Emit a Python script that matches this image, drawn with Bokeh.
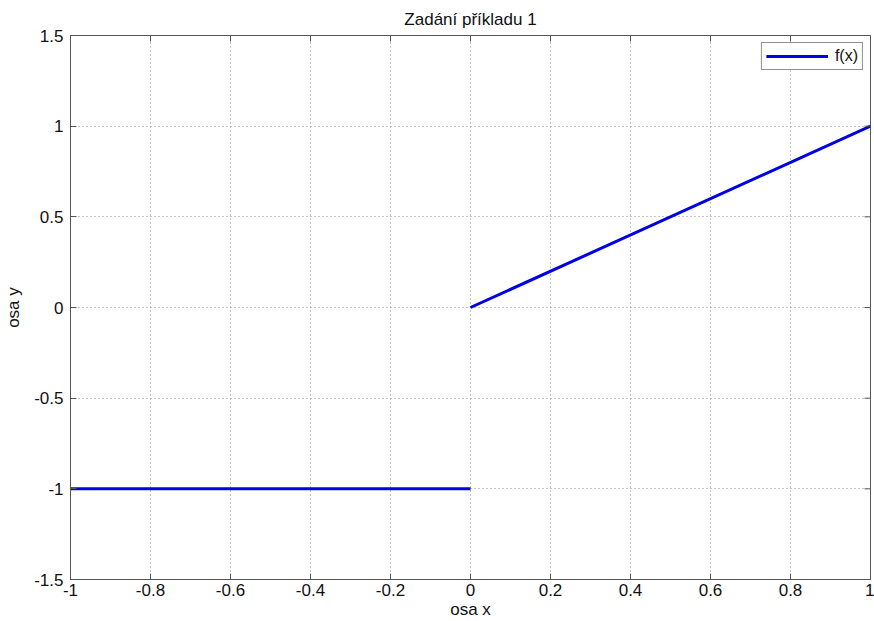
import numpy as np
from bokeh.plotting import figure
from bokeh.models import FixedTicker, Range1d
from bokeh.embed import file_html
from bokeh.resources import INLINE

# piecewise function: -1 on [-1, 0), x on [0, 1]
x_vals = [-1.0, 0.0, np.nan, 0.0, 1.0]
y_vals = [-1.0, -1.0, np.nan, 0.0, 1.0]

x_ticks = [-1, -0.8, -0.6, -0.4, -0.2, 0, 0.2, 0.4, 0.6, 0.8, 1]
y_ticks = [-1.5, -1, -0.5, 0, 0.5, 1, 1.5]
x_labels = {-1: "-1", -0.8: "-0.8", -0.6: "-0.6", -0.4: "-0.4", -0.2: "-0.2", 0: "0",
            0.2: "0.2", 0.4: "0.4", 0.6: "0.6", 0.8: "0.8", 1: "1"}
y_labels = {-1.5: "-1.5", -1: "-1", -0.5: "-0.5", 0: "0", 0.5: "0.5", 1: "1", 1.5: "1.5"}

X_MIN, X_MAX = -1.0, 1.0
Y_MIN, Y_MAX = -1.5, 1.5

FONT = "Liberation Sans"
AXIS_COLOR = "#555555"
TEXT_COLOR = "#111111"

p = figure(width=874, height=621, output_backend="svg", toolbar_location=None,
           x_range=Range1d(X_MIN, X_MAX), y_range=Range1d(Y_MIN, Y_MAX),
           title="Zadání příkladu 1", x_axis_label="osa x", y_axis_label="osa y",
           min_border_left=70, min_border_right=4, min_border_top=35, min_border_bottom=41)

p.title.align = "center"
p.title.text_font = FONT
p.title.text_font_size = "17px"
p.title.text_font_style = "normal"
p.title.text_color = TEXT_COLOR
p.title.offset = 0
p.title.standoff = 13

p.line(x_vals, y_vals, line_color="#0000e6", line_width=3, legend_label="f(x)")

for ax in (p.xaxis[0], p.yaxis[0]):
    ax.axis_line_color = AXIS_COLOR
    ax.major_tick_line_color = AXIS_COLOR
    ax.major_tick_in = 6
    ax.major_tick_out = 0
    ax.minor_tick_line_color = None
    ax.major_label_text_font = FONT
    ax.major_label_text_font_size = "17px"
    ax.major_label_text_color = TEXT_COLOR
    ax.axis_label_text_font = FONT
    ax.axis_label_text_font_size = "17px"
    ax.axis_label_text_font_style = "normal"
    ax.axis_label_text_color = TEXT_COLOR

p.xaxis[0].ticker = FixedTicker(ticks=x_ticks)
p.xaxis[0].major_label_overrides = x_labels
p.yaxis[0].ticker = FixedTicker(ticks=y_ticks)
p.yaxis[0].major_label_overrides = y_labels
p.xaxis[0].major_label_standoff = 4
p.xaxis[0].axis_label_standoff = 1
p.yaxis[0].major_label_standoff = 7
p.yaxis[0].axis_label_standoff = 8

# inward tick marks mirrored on the top and right edges of the box
tick_dy = (Y_MAX - Y_MIN) * 6 / 545
tick_dx = (X_MAX - X_MIN) * 6 / 800
p.segment(x0=x_ticks, y0=[Y_MAX] * len(x_ticks), x1=x_ticks, y1=[Y_MAX - tick_dy] * len(x_ticks),
          line_color=AXIS_COLOR, line_width=1)
p.segment(x0=[X_MAX] * len(y_ticks), y0=y_ticks, x1=[X_MAX - tick_dx] * len(y_ticks), y1=y_ticks,
          line_color=AXIS_COLOR, line_width=1)

p.xgrid.ticker = FixedTicker(ticks=x_ticks)
p.ygrid.ticker = FixedTicker(ticks=y_ticks)
p.grid.grid_line_color = "#888888"
p.grid.grid_line_dash = "1 3"
p.grid.grid_line_width = 1

p.outline_line_color = AXIS_COLOR

p.legend.location = "top_right"
p.legend.margin = 7
p.legend.border_line_color = "#222222"
p.legend.border_line_width = 1
p.legend.label_text_font = FONT
p.legend.label_text_font_size = "16px"
p.legend.label_text_color = TEXT_COLOR
p.legend.glyph_width = 62
p.legend.glyph_height = 14
p.legend.padding = 4
p.legend.label_standoff = 7
p.legend.background_fill_alpha = 1

p.background_fill_color = "white"
p.border_fill_color = "white"

open("out.html", "w").write(file_html(p, INLINE))
